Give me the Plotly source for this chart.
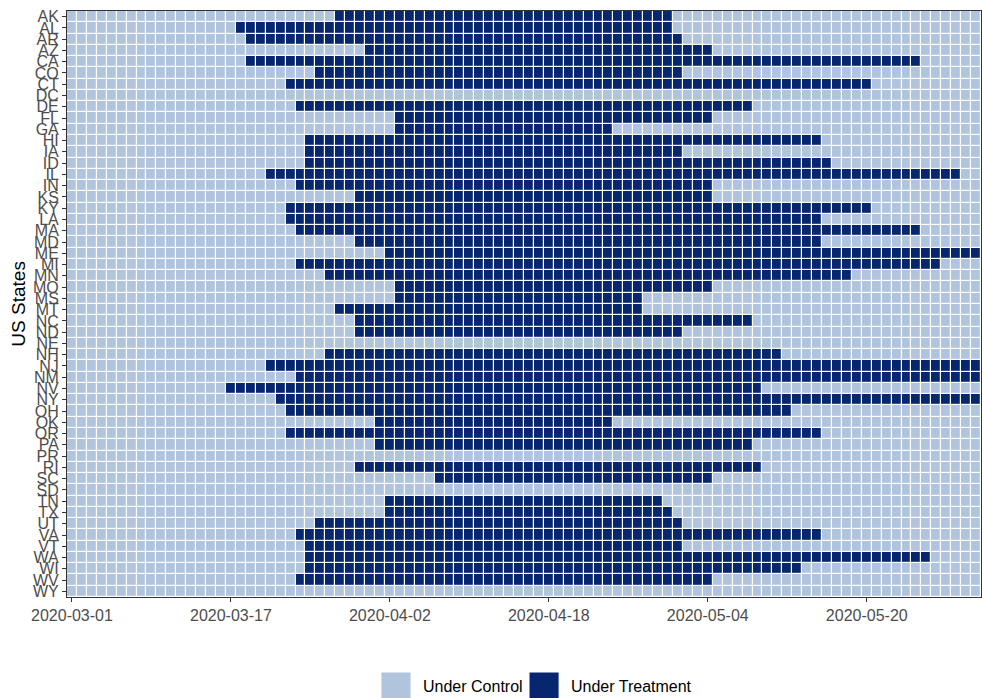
import pandas as pd
import plotly.graph_objects as go

states = [
    "AK", "AL", "AR", "AZ", "CA", "CO", "CT", "DC", "DE", "FL", "GA", "HI", "IA",
    "ID", "IL", "IN", "KS", "KY", "LA", "MA", "MD", "ME", "MI", "MN", "MO", "MS",
    "MT", "NC", "ND", "NE", "NH", "NJ", "NM", "NV", "NY", "OH", "OK", "OR", "PA",
    "PR", "RI", "SC", "SD", "TN", "TX", "UT", "VA", "VT", "WA", "WI", "WV", "WY",
]

# first and last day under treatment (None = never treated)
start_dates = [
    "2020-03-28", "2020-03-18", "2020-03-19", "2020-03-31", "2020-03-19", "2020-03-26",
    "2020-03-23", None, "2020-03-24", "2020-04-03", "2020-04-03", "2020-03-25",
    "2020-03-25", "2020-03-25", "2020-03-21", "2020-03-24", "2020-03-30", "2020-03-23",
    "2020-03-23", "2020-03-24", "2020-03-30", "2020-04-02", "2020-03-24", "2020-03-27",
    "2020-04-03", "2020-04-03", "2020-03-28", "2020-03-30", "2020-03-30", None,
    "2020-03-27", "2020-03-21", "2020-03-24", "2020-03-17", "2020-03-22", "2020-03-23",
    "2020-04-01", "2020-03-23", "2020-04-01", None, "2020-03-30", "2020-04-07",
    None, "2020-04-02", "2020-04-02", "2020-03-26", "2020-03-24", "2020-03-25",
    "2020-03-25", "2020-03-25", "2020-03-24", None,
]
end_dates = [
    "2020-04-30", "2020-04-30", "2020-05-01", "2020-05-04", "2020-05-25", "2020-05-01",
    "2020-05-20", None, "2020-05-08", "2020-05-04", "2020-04-24", "2020-05-15",
    "2020-05-01", "2020-05-16", "2020-05-29", "2020-05-04", "2020-05-04", "2020-05-20",
    "2020-05-15", "2020-05-25", "2020-05-15", "2020-05-31", "2020-05-27", "2020-05-18",
    "2020-05-04", "2020-04-27", "2020-04-27", "2020-05-08", "2020-05-01", None,
    "2020-05-11", "2020-05-31", "2020-05-31", "2020-05-09", "2020-05-31", "2020-05-12",
    "2020-04-24", "2020-05-15", "2020-05-08", None, "2020-05-09", "2020-05-04",
    None, "2020-04-29", "2020-04-30", "2020-05-01", "2020-05-15", "2020-05-01",
    "2020-05-26", "2020-05-13", "2020-05-04", None,
]

tick_dates = ["2020-03-01", "2020-03-17", "2020-04-02", "2020-04-18", "2020-05-04", "2020-05-20"]

control_col = "#B0C4DE"
treat_col = "#06266F"
font_family = "Liberation Sans, Arial, sans-serif"

days = pd.date_range("2020-03-01", "2020-05-31", freq="D")
z = []
for s, e in zip(start_dates, end_dates):
    if s is None:
        z.append([0] * len(days))
    else:
        z.append([1 if pd.Timestamp(s) <= d <= pd.Timestamp(e) else 0 for d in days])

fig = go.Figure(go.Heatmap(
    x=[d.strftime("%Y-%m-%d") for d in days],
    y=states,
    z=z,
    zmin=0, zmax=1,
    colorscale=[[0, control_col], [0.5, control_col], [0.5, treat_col], [1, treat_col]],
    showscale=False,
    xgap=1.2, ygap=1.2,
    hovertemplate="%{y} %{x}<extra></extra>",
))

axis_font = dict(family=font_family, size=16, color="#4d4d4d")

fig.update_xaxes(
    range=["2020-02-29 12:00", "2020-05-31 12:00"],
    tickmode="array", tickvals=tick_dates, ticktext=tick_dates,
    tickfont=axis_font,
    ticks="outside", ticklen=4, tickcolor="#333333",
    showline=True, mirror=True, linecolor="#333333", linewidth=1,
    showgrid=False, zeroline=False, automargin=False,
)
fig.update_yaxes(
    type="category", autorange="reversed",
    tickmode="array", tickvals=states, ticktext=states,
    tickfont=axis_font,
    ticks="outside", ticklen=4, tickcolor="#333333",
    showline=True, mirror=True, linecolor="#333333", linewidth=1,
    showgrid=False, zeroline=False, automargin=False,
)

# y-axis title
fig.add_annotation(x=-0.054, y=0.5, xref="paper", yref="paper", text="US States",
                   textangle=-90, showarrow=False, xanchor="center", yanchor="middle",
                   font=dict(family=font_family, size=19, color="black"))

# legend drawn by hand (two squares + labels under the plot)
legend_items = [("Under Control", control_col, 0.3435), ("Under Treatment", treat_col, 0.5055)]
for label, col, x0 in legend_items:
    fig.add_shape(type="rect", xref="paper", yref="paper",
                  x0=x0, x1=x0 + 0.0329, y0=-0.178, y1=-0.128,
                  fillcolor=col, line=dict(color="white", width=1))
    fig.add_annotation(x=x0 + 0.0438, y=-0.153, xref="paper", yref="paper",
                       text=label, showarrow=False, xanchor="left", yanchor="middle",
                       font=dict(family=font_family, size=16, color="black"))

fig.update_layout(
    width=982, height=698,
    margin=dict(l=67, r=1, t=11, b=101),
    plot_bgcolor="white", paper_bgcolor="white",
    showlegend=False,
)

fig.write_html("out.html", config={"displayModeBar": False},
               post_script="document.body.style.margin='0';")
